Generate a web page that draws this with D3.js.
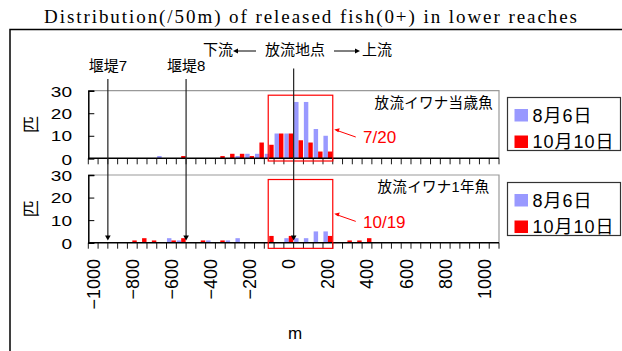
<!DOCTYPE html>
<html>
<head>
<meta charset="utf-8">
<script src="https://cdn.jsdelivr.net/npm/d3@7"></script>
<style>
  body { margin: 0; background: #fff; }
  svg { display: block; }
  text { font-family: "Liberation Sans", "Noto Sans CJK JP", sans-serif; }
</style>
</head>
<body>
<svg id="chart" width="622" height="351"></svg>
<script>
// distance bins (m), 50 m each
const categories = [-1000, -950, -900, -850, -800, -750, -700, -650, -600, -550,
  -500, -450, -400, -350, -300, -250, -200, -150, -100, -50,
  0, 50, 100, 150, 200, 250, 300, 350, 400, 450,
  500, 550, 600, 650, 700, 750, 800, 850, 900, 950,
  1000, 1050];
const tickLabels = [-1000, -800, -600, -400, -200, 0, 200, 400, 600, 800, 1000];
const seriesNames = ['8月6日', '10月10日'];

// 当歳魚
const age0Aug = [0, 0, 0, 0, 0, 0, 0, 1, 0, 0,
  0, 0, 0, 0, 0, 1, 2, 2, 2, 11,
  11, 25, 25, 13, 10, 0, 0, 0, 0, 0,
  0, 0, 0, 0, 0, 0, 0, 0, 0, 0, 0, 0];
const age0Oct = [0, 0, 0, 0, 0, 0, 0, 0, 0, 1,
  0, 0, 0, 1, 2, 2, 1, 7, 6, 11,
  11, 8, 7, 3, 3, 0, 0, 0, 0, 0,
  0, 0, 0, 0, 0, 0, 0, 0, 0, 0, 0, 0];
// 1年魚
const age1Aug = [0, 0, 0, 0, 0, 0, 0, 0, 2, 1,
  0, 0, 1, 0, 1, 2, 0, 0, 0, 0,
  2, 2, 2, 5, 5, 0, 0, 0, 0, 0,
  0, 0, 0, 0, 0, 0, 0, 0, 0, 0, 0, 0];
const age1Oct = [0, 0, 0, 0, 1, 2, 1, 0, 1, 2,
  0, 1, 0, 1, 0, 0, 0, 0, 3, 0,
  3, 0, 0, 0, 3, 0, 1, 1, 2, 0,
  0, 0, 0, 0, 0, 0, 0, 0, 0, 0, 0, 0];

const yTicks = [0, 10, 20, 30];
// markers (m): weirs and release point, release zone box
const weirs = [{name: '堰堤7', m: -925}, {name: '堰堤8', m: -525}];
const releasePoint = 25;
const releaseZone = [-105, 225];

const colors = ['#9999ff', '#ff0000'];

let svg = d3.select('#chart');
let left = 88.3, right = 499;

let x = d3.scaleBand().domain(categories).range([left, right]).padding(0);
let xs = d3.scaleBand().domain([0, 1]).range([0, x.bandwidth()]).paddingOuter(0.1);
let xm = d3.scaleLinear().domain([-1025, 1075]).range([left, right]);

let panels = [
  {top: 90.7, bottom: 158.3, series: [age0Aug, age0Oct], name: '放流イワナ当歳魚', note: '7/20',
    nameRight: 493, legendTop: 97.5, boxBottom: -1.2},
  {top: 175, bottom: 242.7, series: [age1Aug, age1Oct], name: '放流イワナ1年魚', note: '10/19',
    nameRight: 489.5, legendTop: 182.5, boxBottom: -2.5}
];

// title + outer frame
svg.append('text')
  .attr('x', 44).attr('y', 23)
  .attr('textLength', 533)
  .style('font-family', '"Liberation Serif", "Times New Roman", serif')
  .style('font-size', '19px')
  .text('Distribution(/50m) of released fish(0+) in lower reaches');

svg.append('path')
  .attr('d', 'M10,351V29.5H622')
  .attr('fill', 'none').attr('stroke', '#000').attr('stroke-width', 1.5);

panels.forEach(function(p, pi) {
  let y = d3.scaleLinear().domain([0, 30]).range([p.bottom, p.top]);
  let g = svg.append('g');

  // plot border (top/right grey)
  g.append('path')
    .attr('d', 'M' + left + ',' + p.top + 'H' + right + 'V' + p.bottom)
    .attr('fill', 'none').attr('stroke', '#999').attr('stroke-width', 1.2);

  // bars
  p.series.forEach(function(vals, si) {
    g.selectAll('.bar' + si)
      .data(categories.map((c, i) => ({c: c, v: vals[i]})).filter(d => d.v > 0))
      .enter().append('rect')
      .attr('x', d => x(d.c) + xs(si))
      .attr('y', d => y(d.v))
      .attr('width', xs.bandwidth())
      .attr('height', d => y(0) - y(d.v))
      .attr('fill', colors[si]);
  });

  // y axis
  let yAxis = d3.axisRight(y).tickValues(yTicks).tickSize(6).tickFormat('');
  let ya = g.append('g').attr('transform', 'translate(' + left + ',0)').call(yAxis);
  ya.select('.domain').attr('stroke', '#000').attr('stroke-width', 1.5);
  ya.selectAll('.tick line').attr('stroke', '#000');
  g.selectAll('.ylab').data(yTicks).enter().append('text')
    .attr('transform', d => 'translate(72,' + (y(d) + (d === 0 ? 1 : d === 30 ? 0.5 : 0)) + ') scale(1.12,0.9)')
    .attr('dy', '0.36em')
    .attr('text-anchor', 'end')
    .style('font-size', '17px')
    .text(d => d);

  // x axis: tick marks on every bin edge
  let edges = d3.range(categories.length + 1).map(i => left + i * x.step());
  g.append('line')
    .attr('x1', left).attr('x2', right).attr('y1', p.bottom).attr('y2', p.bottom)
    .attr('stroke', '#000').attr('stroke-width', 1.5);
  g.selectAll('.xt').data(edges).enter().append('line')
    .attr('x1', d => d).attr('x2', d => d)
    .attr('y1', p.bottom).attr('y2', p.bottom + 6)
    .attr('stroke', '#000').attr('stroke-width', 0.9);

  if (pi === 1) {
    g.selectAll('.xlab').data(tickLabels).enter().append('text')
      .attr('transform', d => 'translate(' + (x(d) + x.bandwidth() / 2) + ',259) rotate(-90)')
      .attr('text-anchor', 'end').attr('dy', '0.36em')
      .style('font-size', '18px')
      .text(d => d < 0 ? '\u2212' + Math.abs(d) : d);
  }

  // 匹 axis title
  g.append('text')
    .attr('transform', 'translate(31,' + (p.top + p.bottom) / 2 + ') rotate(-90)')
    .attr('text-anchor', 'middle').attr('dy', '0.36em')
    .style('font-size', '17px')
    .text('匹');

  // panel name
  g.append('text')
    .attr('x', p.nameRight).attr('y', p.top + 12).attr('dy', '0.36em')
    .attr('text-anchor', 'end')
    .style('font-size', '14.5px')
    .style('letter-spacing', '0.3px')
    .text(p.name);

  // release zone box + note
  let bx0 = xm(releaseZone[0]), bx1 = xm(releaseZone[1]);
  g.append('rect')
    .attr('x', bx0).attr('y', y(28))
    .attr('width', bx1 - bx0).attr('height', y(p.boxBottom) - y(28))
    .attr('fill', 'none').attr('stroke', '#ff0000').attr('stroke-width', 1.2);
  let ny = y(9);
  g.append('line')
    .attr('x1', bx1 + 23).attr('y1', ny - 1)
    .attr('x2', bx1 + 3).attr('y2', ny - 8)
    .attr('stroke', '#ff0000').attr('stroke-width', 1);
  g.append('path')
    .attr('d', d3.line()([[bx1 + 1.5, ny - 8.6], [bx1 + 7, ny - 9.8], [bx1 + 5.6, ny - 5.8]]) + 'Z')
    .attr('fill', '#ff0000');
  g.append('text')
    .attr('x', 363).attr('y', ny - 1).attr('dy', '0.36em')
    .attr('fill', '#ff0000')
    .style('font-size', '17px')
    .text(p.note);

  // legend
  let lg = g.append('g').attr('transform', 'translate(507.5,' + p.legendTop + ')');
  lg.append('rect').attr('width', 113).attr('height', 53)
    .attr('fill', '#fff').attr('stroke', '#333').attr('stroke-width', 1.2);
  seriesNames.forEach(function(n, i) {
    lg.append('rect').attr('x', 7).attr('y', 11.5 + i * 26.5).attr('width', 13.5).attr('height', 12.5)
      .attr('fill', colors[i]);
    lg.append('text').attr('x', 25).attr('y', 18 + i * 26.5).attr('dy', '0.36em')
      .style('font-size', '18px')
      .style('letter-spacing', '1px')
      .text(n);
  });
});

// weir and release point lines through both panels
let tipY = 240.5;
let markers = weirs.map(w => ({x: xm(w.m), y0: 79})).concat([{x: xm(releasePoint), y0: 68.5}]);
markers.forEach(function(m) {
  svg.append('line')
    .attr('x1', m.x).attr('x2', m.x).attr('y1', m.y0).attr('y2', tipY - 4)
    .attr('stroke', '#222').attr('stroke-width', 1.2);
  svg.append('path')
    .attr('d', d3.line()([[m.x - 2.8, tipY - 5], [m.x + 2.8, tipY - 5], [m.x, tipY]]) + 'Z')
    .attr('fill', '#000');
});
weirs.forEach(function(w) {
  svg.append('text')
    .attr('x', xm(w.m)).attr('y', 66).attr('dy', '0.36em')
    .attr('text-anchor', 'middle')
    .style('font-size', '15px')
    .text(w.name);
});

// downstream / upstream header
let hy = 50;
svg.append('text').attr('x', 203).attr('y', hy).attr('dy', '0.36em').style('font-size', '15px').text('下流');
svg.append('text').attr('x', 265).attr('y', hy).attr('dy', '0.36em').style('font-size', '15px').text('放流地点');
svg.append('text').attr('x', 362).attr('y', hy).attr('dy', '0.36em').style('font-size', '15px').text('上流');
[[256, 233], [334, 360]].forEach(function(a) {
  let dir = a[1] > a[0] ? 1 : -1;
  svg.append('line').attr('x1', a[0]).attr('x2', a[1] - dir * 3).attr('y1', hy + 1).attr('y2', hy + 1)
    .attr('stroke', '#000').attr('stroke-width', 1);
  svg.append('path')
    .attr('d', d3.line()([[a[1], hy + 1], [a[1] - dir * 5, hy - 1.5], [a[1] - dir * 5, hy + 3.5]]) + 'Z')
    .attr('fill', '#000');
});

// x axis title
svg.append('text')
  .attr('x', 295).attr('y', 333).attr('dy', '0.36em')
  .attr('text-anchor', 'middle')
  .style('font-size', '17px')
  .text('m');
</script>
</body>
</html>
